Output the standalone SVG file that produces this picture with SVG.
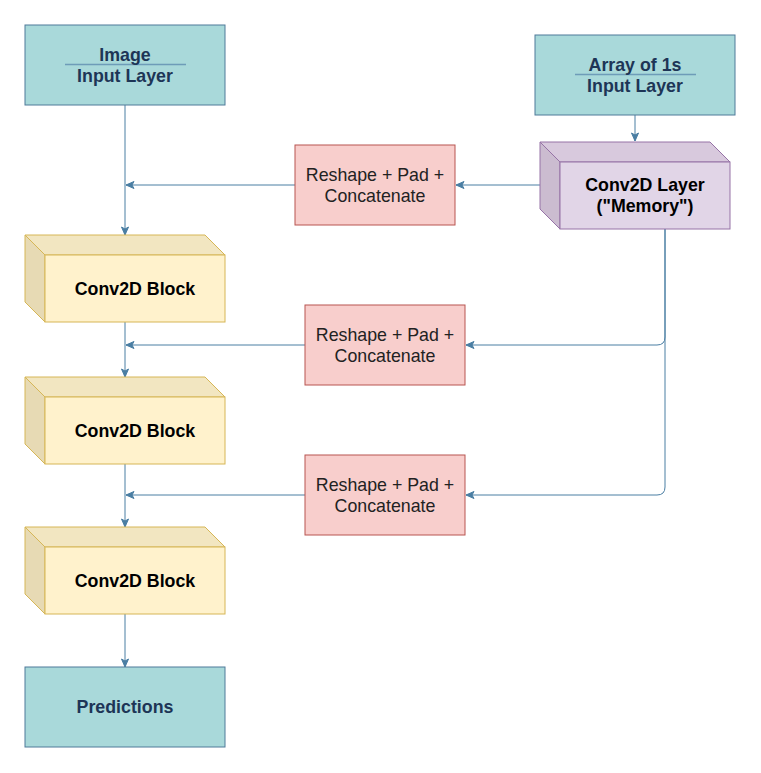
<svg xmlns="http://www.w3.org/2000/svg" width="761" height="773" viewBox="0 0 761 773">
<style>
.io{fill:#a9d9da;stroke:#4f7a99;stroke-width:1}
.pk{fill:#f8cecc;stroke:#b85450;stroke-width:1}
.yf{fill:#fff2cc;stroke:#d6b656;stroke-width:1}
.yt{fill:#f2e6c1;stroke:#d6b656;stroke-width:1}
.ys{fill:#e7dab4;stroke:#d6b656;stroke-width:1}
.pf{fill:#e1d5e7;stroke:#9673a6;stroke-width:1}
.pt{fill:#d8c9dd;stroke:#9673a6;stroke-width:1}
.ps{fill:#cbbcd0;stroke:#9673a6;stroke-width:1}
.div{stroke:#6e9cb8;stroke-width:1.5}
.c{fill:none;stroke:#4a7ea3;stroke-width:1}
text{font-family:"Liberation Sans",Arial,sans-serif;font-size:17.8px;text-anchor:middle}
.tb{font-weight:bold;fill:#1d3556}
.kb{font-weight:bold;fill:#000}
.tr{fill:#222}
</style>
<defs>
<marker id="ah" markerUnits="userSpaceOnUse" markerWidth="10" markerHeight="10" viewBox="0 0 10 10" refX="9" refY="5" orient="auto">
<path d="M1,1.5 L9,5 L1,8.5 L3,5 Z" fill="#4a7ea3" stroke="#4a7ea3" stroke-width="1"/>
</marker>
</defs>
<g id="connectors">
<path class="c" d="M125,105 L125,235" marker-end="url(#ah)"/>
<path class="c" d="M295,185 L126,185" marker-end="url(#ah)"/>
<path class="c" d="M635,115 L635,141" marker-end="url(#ah)"/>
<path class="c" d="M540,185 L456,185" marker-end="url(#ah)"/>
<path class="c" d="M125,322 L125,377" marker-end="url(#ah)"/>
<path class="c" d="M305,345 L126,345" marker-end="url(#ah)"/>
<path class="c" d="M665,229 L665,337 Q665,345 657,345 L466,345" marker-end="url(#ah)"/>
<path class="c" d="M125,464 L125,527" marker-end="url(#ah)"/>
<path class="c" d="M305,495 L126,495" marker-end="url(#ah)"/>
<path class="c" d="M665,229 L665,487 Q665,495 657,495 L466,495" marker-end="url(#ah)"/>
<path class="c" d="M125,614 L125,667" marker-end="url(#ah)"/>
</g>
<g id="image-input">
<rect class="io" x="25" y="25" width="200" height="80"/>
<line class="div" x1="65" y1="64.5" x2="186" y2="64.5"/>
<text class="tb" x="125" y="61">Image</text>
<text class="tb" x="125" y="82">Input Layer</text>
</g>
<g id="ones-input">
<rect class="io" x="535" y="35" width="200" height="80"/>
<line class="div" x1="575" y1="74.5" x2="696" y2="74.5"/>
<text class="tb" x="635" y="71">Array of 1s</text>
<text class="tb" x="635" y="92">Input Layer</text>
</g>
<g id="memory">
<polygon class="pt" points="540,142 710,142 730,162 560,162"/>
<polygon class="ps" points="540,142 560,162 560,229 540,209"/>
<rect class="pf" x="560" y="162" width="170" height="67"/>
<text class="kb" x="645" y="191">Conv2D Layer</text>
<text class="kb" x="645" y="212">("Memory")</text>
</g>
<g id="reshape1">
<rect class="pk" x="295" y="145" width="160" height="80"/>
<text class="tr" x="375" y="181">Reshape + Pad +</text>
<text class="tr" x="375" y="202">Concatenate</text>
</g>
<g id="reshape2">
<rect class="pk" x="305" y="305" width="160" height="80"/>
<text class="tr" x="385" y="341">Reshape + Pad +</text>
<text class="tr" x="385" y="362">Concatenate</text>
</g>
<g id="reshape3">
<rect class="pk" x="305" y="455" width="160" height="80"/>
<text class="tr" x="385" y="491">Reshape + Pad +</text>
<text class="tr" x="385" y="512">Concatenate</text>
</g>
<g id="block1">
<polygon class="yt" points="25,235 205,235 225,255 45,255"/>
<polygon class="ys" points="25,235 45,255 45,322 25,302"/>
<rect class="yf" x="45" y="255" width="180" height="67"/>
<text class="kb" x="135" y="294.5">Conv2D Block</text>
</g>
<g id="block2">
<polygon class="yt" points="25,377 205,377 225,397 45,397"/>
<polygon class="ys" points="25,377 45,397 45,464 25,444"/>
<rect class="yf" x="45" y="397" width="180" height="67"/>
<text class="kb" x="135" y="436.5">Conv2D Block</text>
</g>
<g id="block3">
<polygon class="yt" points="25,527 205,527 225,547 45,547"/>
<polygon class="ys" points="25,527 45,547 45,614 25,594"/>
<rect class="yf" x="45" y="547" width="180" height="67"/>
<text class="kb" x="135" y="586.5">Conv2D Block</text>
</g>
<g id="predictions">
<rect class="io" x="25" y="667" width="200" height="80"/>
<text class="tb" x="125" y="713">Predictions</text>
</g>
</svg>
